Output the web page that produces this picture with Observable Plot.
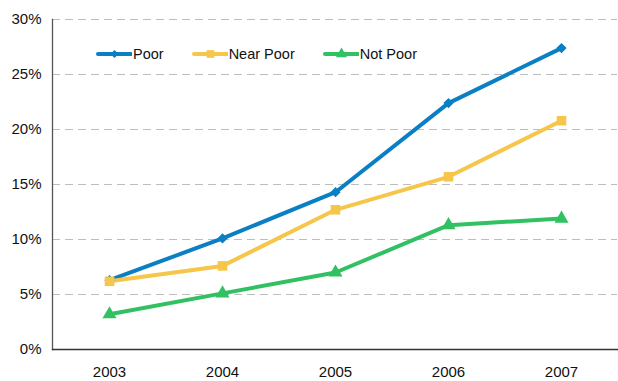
<!DOCTYPE html>
<html>
<head>
<meta charset="utf-8">
<script src="https://cdn.jsdelivr.net/npm/d3@7"></script>
<script src="https://cdn.jsdelivr.net/npm/@observablehq/plot@0.6"></script>
<style>
  html, body { margin: 0; padding: 0; background: #fff; }
  #chart { position: relative; width: 618px; height: 381px; font-family: "Liberation Sans", Arial, sans-serif; }
  .legend { position: absolute; top: 46px; left: 96px; display: flex; font-size: 14.5px; line-height: 16px; color: #111; }
  .legend .item { display: flex; align-items: center; }
  .legend svg { display: block; }
</style>
</head>
<body>
<div id="chart"></div>
<script>
// Share of people in each income group, by year (percent)
const years = ["2003", "2004", "2005", "2006", "2007"];
const poor = [6.3, 10.1, 14.3, 22.4, 27.4];
const nearPoor = [6.2, 7.6, 12.7, 15.7, 20.8];
const notPoor = [3.2, 5.1, 7.0, 11.3, 11.9];
const yTicks = [0, 5, 10, 15, 20, 25, 30];

const groups = [
  {name: "Poor", values: poor, color: "#0a7fc3", symbol: "diamond2", r: 4.6},
  {name: "Near Poor", values: nearPoor, color: "#f6c64a", symbol: "square", r: 5.4},
  {name: "Not Poor", values: notPoor, color: "#31c162", symbol: "triangle", r: 5.2}
];

const rows = groups.flatMap(g => years.map((year, i) => ({group: g.name, year, value: g.values[i]})));

const plot = Plot.plot({
  width: 618,
  height: 381,
  marginLeft: 52,
  marginRight: 1,
  marginTop: 19,
  marginBottom: 32,
  style: {fontFamily: "Liberation Sans, Arial, sans-serif", fontSize: "15px", color: "#111", background: "#fff"},
  x: {type: "point", domain: years, padding: 0.5, label: null},
  y: {domain: [0, 30], label: null},
  color: {domain: groups.map(g => g.name), range: groups.map(g => g.color)},
  symbol: {domain: groups.map(g => g.name), range: groups.map(g => g.symbol)},
  marks: [
    Plot.gridY(yTicks.filter(t => t > 0), {stroke: "#bdbdbd", strokeOpacity: 1, strokeDasharray: "8,5", strokeWidth: 1}),
    Plot.axisY(yTicks, {tickSize: 0, tickPadding: 11, tickFormat: d => d + "%", fontSize: 15}),
    Plot.axisX({tickSize: 0, tickPadding: 17, fontSize: 15}),
    Plot.line(rows, {x: "year", y: "value", z: "group", stroke: "group", strokeWidth: 4, strokeLinejoin: "round"}),
    ...groups.map(g => Plot.dot(rows.filter(d => d.group === g.name), {x: "year", y: "value", symbol: "group", fill: "group", r: g.r, stroke: "none"})),
    Plot.frame({anchor: "left", stroke: "#555", strokeWidth: 1.3}),
    Plot.frame({anchor: "bottom", stroke: "#333", strokeWidth: 1.3})
  ]
});

const chart = document.getElementById("chart");
chart.appendChild(plot);

// Legend: line swatch with marker, followed by the label
const legend = document.createElement("div");
legend.className = "legend";
const symbolTypes = {diamond2: d3.symbolDiamond2, square: d3.symbolSquare, triangle: d3.symbolTriangle};
groups.forEach((g, i) => {
  const item = document.createElement("div");
  item.className = "item";
  item.style.marginRight = i < groups.length - 1 ? "28px" : "0";
  const rs = g.r * 0.8;
  const sym = d3.symbol(symbolTypes[g.symbol], rs * rs * Math.PI)();
  item.innerHTML = `<svg width="36" height="16"><line x1="2" x2="35" y1="8" y2="8" stroke="${g.color}" stroke-width="4" stroke-linecap="round"/><path d="${sym}" transform="translate(18.5,8)" fill="${g.color}"/></svg><span style="margin-left:1px">${g.name}</span>`;
  legend.appendChild(item);
});
chart.appendChild(legend);
</script>
</body>
</html>
